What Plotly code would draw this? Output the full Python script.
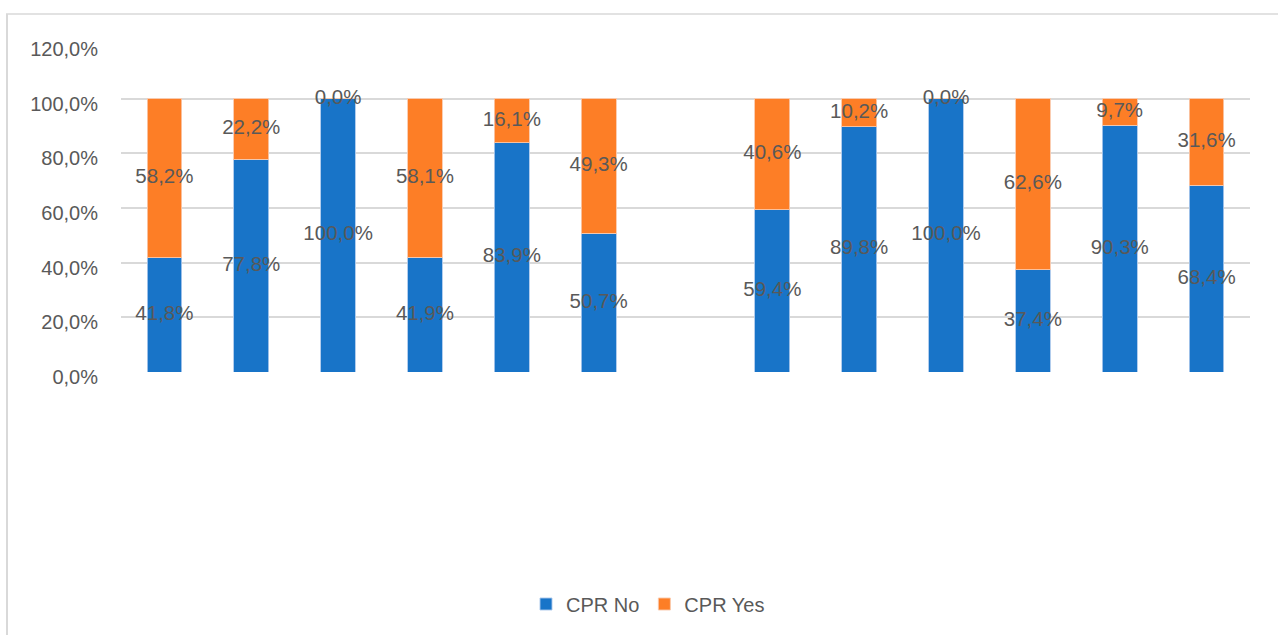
import plotly.graph_objects as go

categories = ["A1", "A2", "A3", "A4", "A5", "A6", " ", "B1", "B2", "B3", "B4", "B5", "B6"]
cpr_no = [41.8, 77.8, 100.0, 41.9, 83.9, 50.7, None, 59.4, 89.8, 100.0, 37.4, 90.3, 68.4]
cpr_yes = [58.2, 22.2, 0.0, 58.1, 16.1, 49.3, None, 40.6, 10.2, 0.0, 62.6, 9.7, 31.6]
tick_vals = [0, 20, 40, 60, 80, 100, 120]
tick_labels = ["0,0%", "20,0%", "40,0%", "60,0%", "80,0%", "100,0%", "120,0%"]

BLUE = "#1874C8"
ORANGE = "#FD7E26"
TXT = "#595959"
GRID = "#D9D9D9"
FONT = "Liberation Sans"


def fmt(v):
    return f"{v:.1f}".replace(".", ",") + "%"


fig = go.Figure()
fig.add_trace(go.Bar(x=categories, y=cpr_no, name="CPR No",
                     marker=dict(color=BLUE, line=dict(color="rgba(170,200,235,0.9)", width=1)),
                     hoverinfo="skip"))
fig.add_trace(go.Bar(x=categories, y=cpr_yes, name="CPR Yes",
                     marker=dict(color=ORANGE, line=dict(color="rgba(250,200,170,0.9)", width=1)),
                     hoverinfo="skip"))

# data labels at the centre of each segment
lx, ly, lt = [], [], []
for c, n, y in zip(categories, cpr_no, cpr_yes):
    if n is None:
        continue
    lx += [c, c]
    ly += [n / 2, n + y / 2]
    lt += [fmt(n), fmt(y)]
fig.add_trace(go.Scatter(x=lx, y=ly, text=lt, mode="text", textposition="middle center",
                         textfont=dict(family=FONT, size=20.5, color=TXT), showlegend=False,
                         hoverinfo="skip", cliponaxis=False))

L, R, T, B = 121, 28, 44, 263
W, H = 1278, 635
pw, ph = W - L - R, H - T - B


def px_x(p):
    return (p - L) / pw


def px_y(p):
    return (T + ph - p) / ph


fig.update_layout(
    width=W, height=H, barmode="stack", bargap=0.6,
    margin=dict(l=L, r=R, t=T, b=B, autoexpand=False),
    plot_bgcolor="white", paper_bgcolor="white",
    font=dict(family=FONT, size=20, color=TXT),
    xaxis=dict(showticklabels=False, showgrid=False, zeroline=False, showline=False, ticks="",
               categoryorder="array", categoryarray=categories,
               range=[-0.5, len(categories) - 0.5], autorange=False),
    yaxis=dict(range=[0, 120], tickvals=tick_vals, ticktext=tick_labels, showgrid=True,
               gridcolor=GRID, gridwidth=2, zeroline=False, showline=False, ticks="",
               ticklabelstandoff=22, ticklabelshift=5,
               tickfont=dict(family=FONT, size=20, color=TXT)),
    legend=dict(orientation="h", x=px_x(648), y=px_y(604), xanchor="center", yanchor="middle",
                font=dict(family=FONT, size=20, color=TXT), traceorder="normal", itemwidth=30),
    showlegend=True,
    shapes=[
        dict(type="line", xref="paper", yref="paper", x0=px_x(6), x1=px_x(1278),
             y0=px_y(14), y1=px_y(14), line=dict(color=GRID, width=1.5), layer="below"),
        dict(type="line", xref="paper", yref="paper", x0=px_x(7), x1=px_x(7),
             y0=px_y(14), y1=px_y(640), line=dict(color=GRID, width=2), layer="below"),
    ],
)

fig.write_html("out.html")
